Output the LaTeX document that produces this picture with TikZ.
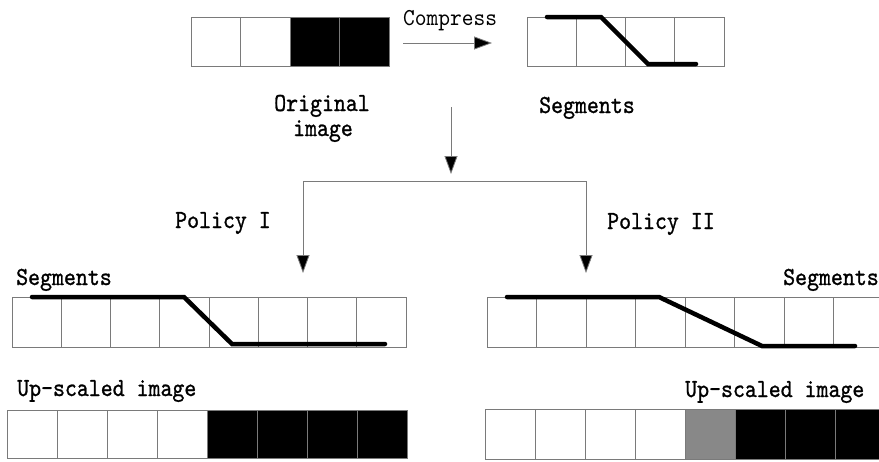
\documentclass[tikz,border=0pt]{standalone}
\usepackage{fontspec}
\usetikzlibrary{arrows.meta}
\newfontfamily\labfont{lmmono10-regular.otf}[FakeBold=1.0,FakeStretch=0.875]
\newfontfamily\cmpfont{lmmono10-regular.otf}[FakeStretch=0.92]
\definecolor{edgegray}{HTML}{7A7A7A}
\definecolor{midgray}{HTML}{888888}
\begin{document}
\begin{tikzpicture}[x=1pt,y=-1pt,
  cell/.style={draw=edgegray,line width=0.8pt,inner sep=0pt,outer sep=0pt,anchor=north west},
  segline/.style={line width=4.5pt,line cap=round,line join=miter},
  conn/.style={draw=edgegray,line width=0.8pt},
  tip/.style={-{Triangle[length=18pt,width=13pt,fill=black]}},
  lab/.style={font=\labfont\fontsize{26}{26}\selectfont,inner sep=0pt},
  cmp/.style={font=\cmpfont\fontsize{24.3}{24.3}\selectfont,inner sep=0pt}]
\useasboundingbox (0,0) rectangle (879,461);
\clip (0,0) rectangle (879,461);
% original image
\foreach \i/\c in {0/white,1/white,2/black,3/black}
  \node[cell,fill=\c,minimum width=49.5pt,minimum height=49pt] (orig\i) at ({191+49.5*\i},17) {};
% compressed segments
\foreach \i in {0,...,3}
  \node[cell,minimum width=49.25pt,minimum height=49pt] (seg\i) at ({527+49.25*\i},17) {};
\draw[segline] (547,17) -- (601,17) -- (648,64) -- (696,64);
% policy I segments
\foreach \i in {0,...,7}
  \node[cell,minimum width=49.25pt,minimum height=50pt] (lseg\i) at ({12+49.25*\i},297) {};
\draw[segline] (32,297) -- (184,297) -- (232,344) -- (385,344);
% policy II segments
\foreach \i in {0,...,7}
  \node[cell,minimum width=49.5pt,minimum height=50pt] (rseg\i) at ({487+49.5*\i},297) {};
\draw[segline] (507,297) -- (659,297) -- (762,346) -- (855,346);
% up-scaled images
\foreach \i/\c in {0/white,1/white,2/white,3/white,4/black,5/black,6/black,7/black}
  \node[cell,fill=\c,minimum width=50.1pt,minimum height=48pt] (lup\i) at ({7+50.1*\i},410) {};
\foreach \i/\c in {0/white,1/white,2/white,3/white,4/midgray,5/black,6/black,7/black}
  \node[cell,fill=\c,minimum width=50.1pt,minimum height=50pt] (rup\i) at ({485+50.1*\i},409) {};
% connectors
\coordinate (ca) at (403,43);
\coordinate (cb) at (492,43);
\draw[conn,tip] (ca) -- (cb);
\coordinate (da) at (451,107);
\coordinate (db) at (451,174);
\draw[conn,tip] (da) -- (db);
\coordinate (hl) at (303,181);
\coordinate (hr) at (586,181);
\coordinate (pl) at (303,273);
\coordinate (pr) at (586,273);
\draw[conn] (hl) -- (hr);
\draw[conn,tip] (hl) -- (pl);
\draw[conn,tip] (hr) -- (pr);
% labels
\node[cmp,anchor=base west] (tcomp) at (403,25) {Compress};
\node[lab,anchor=base] (torig1) at (322,111) {Original};
\node[lab,anchor=base] (torig2) at (323,136) {image};
\node[lab,anchor=base west] (tseg) at (539,113) {Segments};
\node[lab,anchor=base west] (tp1) at (175,228) {Policy I};
\node[lab,anchor=base west] (tp2) at (607,229) {Policy II};
\node[lab,anchor=base west] (tls) at (16,285) {Segments};
\node[lab,anchor=base west] (trs) at (783,285) {Segments};
\node[lab,anchor=base west] (tlu) at (17,396) {Up-scaled image};
\node[lab,anchor=base west] (tru) at (685,397) {Up-scaled image};
\end{tikzpicture}
\end{document}
